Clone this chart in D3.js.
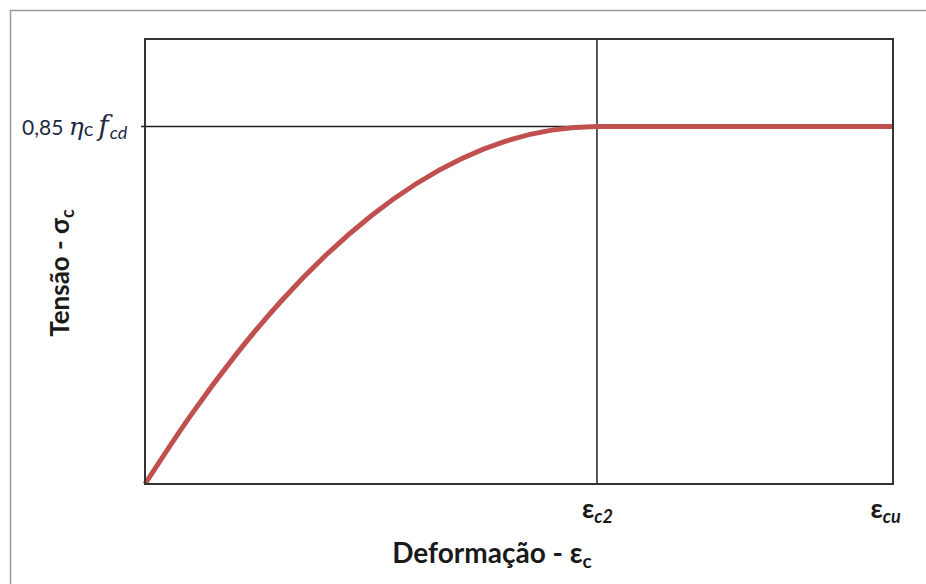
<!DOCTYPE html>
<html>
<head>
<meta charset="utf-8">
<script src="https://cdn.jsdelivr.net/npm/d3@7"></script>
<style>
  body { margin: 0; background: #fff; }
  svg text { font-family: Lato, "Open Sans", sans-serif; fill: #1a1a1a; }
</style>
</head>
<body>
<div id="chart"></div>
<script>
const strain = [0, 0.2, 0.4, 0.6, 0.8, 1.0, 1.2, 1.4, 1.6, 1.8, 2.0, 3.31];
const stress = [0, 0.19, 0.36, 0.51, 0.64, 0.75, 0.84, 0.91, 0.96, 0.99, 1.0, 1.0];

const strainC2 = 2.0;   // εc2
const strainCu = 3.31;  // εcu
const stressTop = 1.0;  // 0.85 ηc fcd

const width = 926, height = 584;
const margin = { top: 39, right: 33, bottom: 100, left: 145 };
const innerW = width - margin.left - margin.right;
const innerH = height - margin.top - margin.bottom;

const svg = d3.select('#chart').append('svg')
    .attr('width', width)
    .attr('height', height);

// outer light frame, only top and left show up in the picture
svg.append('path')
    .attr('d', `M10.5,${height} V10.5 H${width}`)
    .attr('fill', 'none')
    .attr('stroke', '#9a9a9a')
    .attr('stroke-width', 1.5);

const g = svg.append('g')
    .attr('transform', `translate(${margin.left},${margin.top})`);

const x = d3.scaleLinear().domain([0, strainCu]).range([0, innerW]);
const y = d3.scaleLinear().domain([0, 1.245]).range([innerH, 0]);

const data = strain.map((s, i) => ({ e: s, s: stress[i] }));

// reference lines
g.append('line')
    .attr('x1', -4).attr('x2', x(strainC2))
    .attr('y1', y(stressTop)).attr('y2', y(stressTop))
    .attr('stroke', '#222').attr('stroke-width', 1.5);

g.append('line')
    .attr('x1', x(strainC2)).attr('x2', x(strainC2))
    .attr('y1', 0).attr('y2', innerH)
    .attr('stroke', '#222').attr('stroke-width', 1.5);

// the curve
const line = d3.line()
    .x(d => x(d.e))
    .y(d => y(d.s))
    .curve(d3.curveMonotoneX);

g.append('path')
    .datum(data)
    .attr('fill', 'none')
    .attr('stroke', '#c0504d')
    .attr('stroke-width', 5)
    .attr('d', line);

// plot frame
g.append('rect')
    .attr('x', 0).attr('y', 0)
    .attr('width', innerW).attr('height', innerH)
    .attr('fill', 'none')
    .attr('stroke', '#333')
    .attr('stroke-width', 2);

// x tick labels: εc2 and εcu
const xAxis = d3.axisBottom(x)
    .tickValues([strainC2, strainCu])
    .tickSize(0)
    .tickPadding(0)
    .tickFormat('');
const xg = g.append('g')
    .attr('transform', `translate(0,${innerH})`)
    .call(xAxis);
xg.select('.domain').remove();
xg.selectAll('.tick text').remove();
xg.selectAll('.tick').each(function(d) {
    const t = d3.select(this).append('text')
        .attr('y', 34)
        .attr('x', d === strainCu ? -8 : 0)
        .attr('text-anchor', 'middle')
        .style('font-weight', 'bold')
        .style('font-size', '27px');
    t.append('tspan').text('ε');
    t.append('tspan')
        .attr('dy', 5)
        .style('font-size', '18px')
        .style('font-style', 'italic')
        .text(d === strainC2 ? 'c2' : 'cu');
});

// y tick label: 0,85 ηc fcd
const yt = g.append('text')
    .attr('x', -123)
    .attr('y', y(stressTop) + 8)
    .style('font-size', '21px')
    .style('fill', '#1f2a44');
yt.append('tspan').text('0,85 ');
yt.append('tspan').style('font-style', 'italic').style('font-family', '"DejaVu Serif", serif').style('font-size', '25px').text('η');
yt.append('tspan').style('font-size', '20px').attr('dy', 1).text('c ');
yt.append('tspan').attr('dy', -1).style('font-style', 'italic').style('font-family', '"DejaVu Serif", serif').style('font-size', '28px').text('f');
yt.append('tspan').attr('dy', 4).attr('dx', 1).style('font-style', 'italic').style('font-size', '18px').text('cd');

// axis titles
const xt = svg.append('text')
    .attr('x', 492)
    .attr('y', 563)
    .attr('text-anchor', 'middle')
    .style('font-weight', 'bold')
    .style('font-size', '28px');
xt.append('tspan').text('Deformação - ε');
xt.append('tspan').attr('dy', 5).style('font-size', '19px').text('c');

const ytl = svg.append('text')
    .attr('transform', `translate(69,273) rotate(-90)`)
    .attr('text-anchor', 'middle')
    .style('font-weight', 'bold')
    .style('font-size', '26px');
ytl.append('tspan').text('Tensão - σ');
ytl.append('tspan').attr('dy', 5).style('font-size', '18px').text('c');
</script>
</body>
</html>
